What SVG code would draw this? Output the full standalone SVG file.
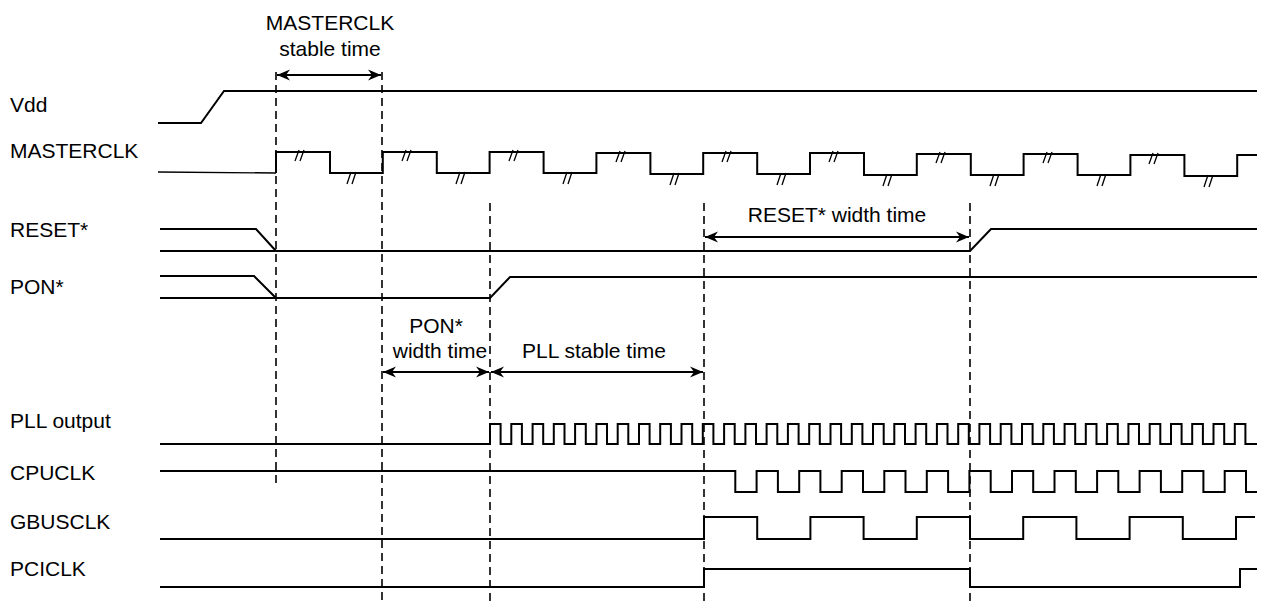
<svg xmlns="http://www.w3.org/2000/svg" width="1265" height="605" viewBox="0 0 1265 605">
<style>
text{font-family:"Liberation Sans",Arial,sans-serif;font-size:21px;fill:#000}
.w{fill:none;stroke:#000;stroke-width:2}
.thin{fill:none;stroke:#000;stroke-width:1.4}
.slash{fill:none;stroke:#000;stroke-width:1.3}
.dash{fill:none;stroke:#000;stroke-width:1.6;stroke-dasharray:8 5}
.arr{fill:none;stroke:#000;stroke-width:2;marker-start:url(#ah);marker-end:url(#ah)}
.c{text-anchor:middle}
</style>
<defs>
<marker id="ah" viewBox="-14 -7 15 14" refX="0" refY="0" markerWidth="15" markerHeight="14" markerUnits="userSpaceOnUse" orient="auto-start-reverse">
<path d="M0,0 L-13,-5.5 L-9,0 L-13,5.5 Z" fill="#000"/>
</marker>
</defs>
<rect width="1265" height="605" fill="#fff"/>

<g id="vdd">
<text x="10" y="112">Vdd</text>
<path class="w" d="M158,123 H201 L224,91 H1257"/>
</g>

<g id="masterclk">
<text x="10" y="158">MASTERCLK</text>
<path class="thin" d="M158,172 L276,173"/>
<path class="w" d="M276,173 V152 H330 V173 H382.8 V152 H436.8 V173 H489.6 V152 H543.6 V173 H596.4 V153 H650.4 V174 H703.2 V153 H757.2 V174 H810 V153 H864 V175 H916.8 V154 H970.8 V175 H1023.6 V154 H1077.6 V175 H1130.4 V155 H1184.4 V176 H1237.2 V155 H1257"/>
<path class="slash" d="M295,161 L299,150 M300,161 L304,150 M402,161 L406,150 M407,161 L411,150 M509,161 L513,150 M514,161 L518,150 M616,162 L620,151 M621,162 L625,151 M722,162 L726,151 M727,162 L731,151 M829,162 L833,151 M834,162 L838,151 M936,163 L940,152 M941,163 L945,152 M1043,163 L1047,152 M1048,163 L1052,152 M1149,164 L1153,153 M1154,164 L1158,153"/>
<path class="slash" d="M347,184 L351,172 M352,184 L356,172 M456,184 L460,172 M461,184 L465,172 M563,184 L567,172 M568,184 L572,172 M670,185 L674,173 M675,185 L679,173 M777,185 L781,173 M782,185 L786,173 M883,186 L887,174 M888,186 L892,174 M990,186 L994,174 M995,186 L999,174 M1097,186 L1101,174 M1102,186 L1106,174 M1204,187 L1208,175 M1209,187 L1213,175"/>
</g>

<g id="reset">
<text x="10" y="237">RESET*</text>
<path class="w" d="M160,229 H256 L276,251"/>
<path class="w" d="M160,251 H970 L991,229 H1257"/>
</g>

<g id="pon">
<text x="10" y="294">PON*</text>
<path class="w" d="M160,276 H254 L276,298"/>
<path class="w" d="M160,298 H490 L510,277 H1257"/>
</g>

<g id="pll">
<text x="10" y="428">PLL output</text>
<path class="w" d="M160,444 H490 V424 H500.6 V444 H511.3 V424 H521.9 V444 H532.6 V424 H543.2 V444 H553.8 V424 H564.5 V444 H575.1 V424 H585.8 V444 H596.4 V424 H607 V444 H617.7 V424 H628.3 V444 H639 V424 H649.6 V444 H660.2 V424 H670.9 V444 H681.5 V424 H692.2 V444 H702.8 V424 H713.4 V444 H724.1 V424 H734.7 V444 H745.4 V424 H756 V444 H766.6 V424 H777.3 V444 H787.9 V424 H798.6 V444 H809.2 V424 H819.8 V444 H830.5 V424 H841.1 V444 H851.8 V424 H862.4 V444 H873 V424 H883.7 V444 H894.3 V424 H905 V444 H915.6 V424 H926.2 V444 H936.9 V424 H947.5 V444 H958.2 V424 H968.8 V444 H979.4 V424 H990.1 V444 H1000.7 V424 H1011.4 V444 H1022 V424 H1032.6 V444 H1043.3 V424 H1053.9 V444 H1064.6 V424 H1075.2 V444 H1085.8 V424 H1096.5 V444 H1107.1 V424 H1117.8 V444 H1128.4 V424 H1139 V444 H1149.7 V424 H1160.3 V444 H1171 V424 H1181.6 V444 H1192.2 V424 H1202.9 V444 H1213.5 V424 H1224.2 V444 H1234.8 V424 H1245.4 V444 H1257"/>
</g>

<g id="cpuclk">
<text x="10" y="480">CPUCLK</text>
<path class="w" d="M160,471 H735.3 V492 H756.6 V471 H777.9 V492 H799.2 V471 H820.4 V492 H841.7 V471 H863 V492 H884.3 V471 H905.5 V492 H926.8 V471 H948.1 V492 H969.4 V471 H990.7 V492 H1012 V471 H1033.2 V492 H1054.5 V471 H1075.8 V492 H1097.1 V471 H1118.3 V492 H1139.6 V471 H1160.9 V492 H1182.2 V471 H1203.4 V492 H1224.7 V471 H1246 V492 H1257"/>
</g>

<g id="gbusclk">
<text x="10" y="529">GBUSCLK</text>
<path class="w" d="M160,539 H704 V517 H757.2 V539 H810.4 V517 H863.6 V539 H916.8 V517 H970 V539 H1023.2 V517 H1076.4 V539 H1129.6 V517 H1182.8 V539 H1236 V517 H1255"/>
</g>

<g id="pciclk">
<text x="10" y="576">PCICLK</text>
<path class="w" d="M160,587 H704 V569 H970 V587 H1240 V569 H1257"/>
</g>

<g id="connectors">
<path class="dash" d="M276,72 V483"/>
<path class="dash" d="M382,72 V605"/>
<path class="dash" d="M490,203 V605"/>
<path class="dash" d="M704,203 V605"/>
<path class="dash" d="M970,203 V605"/>
<path class="arr" d="M277,75 H381"/>
<path class="arr" d="M705,237 H969"/>
<path class="arr" d="M383,372 H489"/>
<path class="arr" d="M491,372 H703"/>
</g>

<g id="annotations">
<text class="c" x="330" y="30">MASTERCLK</text>
<text class="c" x="330" y="56">stable time</text>
<text class="c" x="837" y="222">RESET* width time</text>
<text class="c" x="436" y="333">PON*</text>
<text class="c" x="440" y="358">width time</text>
<text class="c" x="594" y="358">PLL stable time</text>
</g>
</svg>
